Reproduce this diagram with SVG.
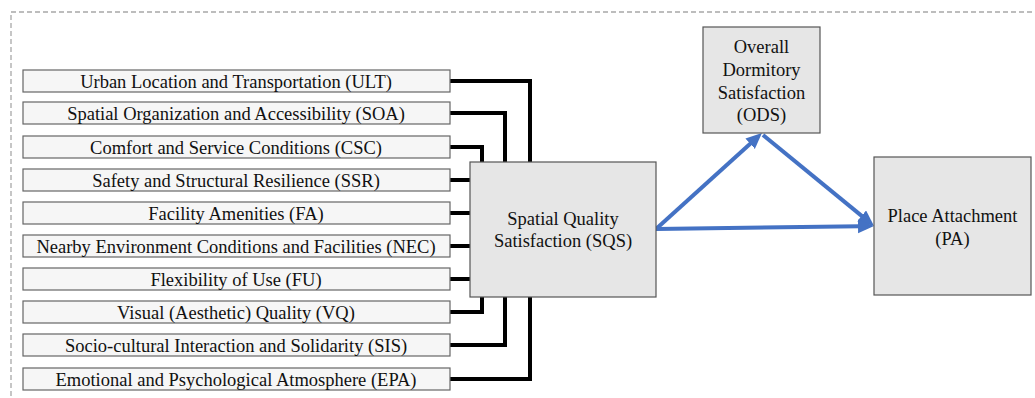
<svg xmlns="http://www.w3.org/2000/svg" width="1035" height="398" viewBox="0 0 1035 398">
<style>
.frame{fill:none;stroke:#a8a8a8;stroke-width:1.3;stroke-dasharray:5 3}
.item{fill:#f6f6f6;stroke:#666;stroke-width:1.2}
.main{fill:#e6e6e6;stroke:#555;stroke-width:1.2}
.t{font-size:18.5px;fill:#111;text-anchor:middle}
.blk{fill:none;stroke:#000;stroke-width:4}
.blu{fill:none;stroke:#4472C4;stroke-width:4}
</style>
<defs>
<marker id="ah" markerUnits="userSpaceOnUse" markerWidth="18" markerHeight="16" refX="2" refY="7" orient="auto">
<path d="M0,0 L16,7 L0,14 z" fill="#4472C4"/>
</marker>
</defs>
<path class="frame" d="M11,396 V12 H1035"/>
<g id="connectors">
<path class="blk" d="M450,81 H530 V162"/>
<path class="blk" d="M450,113 H505 V162"/>
<path class="blk" d="M450,147 H482 V162"/>
<path class="blk" d="M450,180 H470"/>
<path class="blk" d="M450,213 H470"/>
<path class="blk" d="M450,246 H470"/>
<path class="blk" d="M450,279 H470"/>
<path class="blk" d="M450,312 H482 V297"/>
<path class="blk" d="M450,345 H505 V297"/>
<path class="blk" d="M450,379 H530 V297"/>
<path class="blu" d="M656,229 L751.6,142.4" marker-end="url(#ah)"/>
<path class="blu" d="M763,135 L863.2,217.1" marker-end="url(#ah)"/>
<path class="blu" d="M656,229 L860,226.2" marker-end="url(#ah)"/>
</g>
<g font-family="Liberation Serif, Tinos, DejaVu Serif, serif">
<g id="ULT"><rect class="item" x="23" y="70" width="427" height="22"/><text class="t" x="236" y="87.5">Urban Location and Transportation (ULT)</text></g>
<g id="SOA"><rect class="item" x="23" y="102" width="427" height="22"/><text class="t" x="236" y="119.5">Spatial Organization and Accessibility (SOA)</text></g>
<g id="CSC"><rect class="item" x="23" y="136" width="427" height="22"/><text class="t" x="236" y="153.5">Comfort and Service Conditions (CSC)</text></g>
<g id="SSR"><rect class="item" x="23" y="169" width="427" height="22"/><text class="t" x="236" y="186.5">Safety and Structural Resilience (SSR)</text></g>
<g id="FA"><rect class="item" x="23" y="202" width="427" height="22"/><text class="t" x="236" y="219.5">Facility Amenities (FA)</text></g>
<g id="NEC"><rect class="item" x="23" y="235" width="427" height="22"/><text class="t" x="236" y="252.5">Nearby Environment Conditions and Facilities (NEC)</text></g>
<g id="FU"><rect class="item" x="23" y="268" width="427" height="22"/><text class="t" x="236" y="285.5">Flexibility of Use (FU)</text></g>
<g id="VQ"><rect class="item" x="23" y="301" width="427" height="22"/><text class="t" x="236" y="318.5">Visual (Aesthetic) Quality (VQ)</text></g>
<g id="SIS"><rect class="item" x="23" y="334" width="427" height="22"/><text class="t" x="236" y="351.5">Socio-cultural Interaction and Solidarity (SIS)</text></g>
<g id="EPA"><rect class="item" x="23" y="368" width="427" height="22"/><text class="t" x="236" y="385.5">Emotional and Psychological Atmosphere (EPA)</text></g>
<g id="SQS"><rect class="main" x="470" y="162" width="186" height="135"/><text class="t" x="563" y="225">Spatial Quality</text><text class="t" x="563" y="247">Satisfaction (SQS)</text></g>
<g id="ODS"><rect class="main" x="703" y="27" width="117" height="106"/><text class="t" x="761.5" y="53">Overall</text><text class="t" x="761.5" y="76">Dormitory</text><text class="t" x="761.5" y="98.5">Satisfaction</text><text class="t" x="761.5" y="121">(ODS)</text></g>
<g id="PA"><rect class="main" x="874" y="157" width="157" height="138"/><text class="t" x="952.5" y="222">Place Attachment</text><text class="t" x="952.5" y="245">(PA)</text></g>
</g>
</svg>
